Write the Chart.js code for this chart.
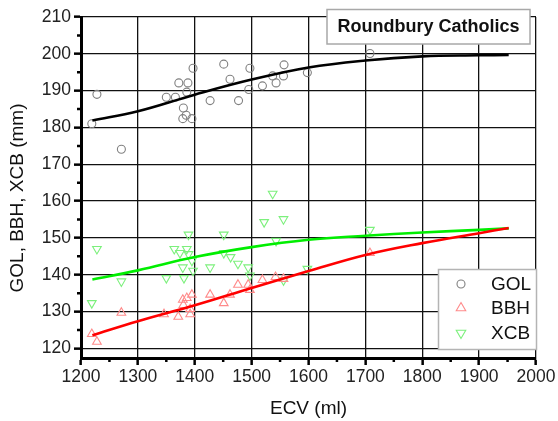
<!DOCTYPE html>
<html>
<head>
<meta charset="utf-8">
<script src="https://cdn.jsdelivr.net/npm/chart.js@4.4.1/dist/chart.umd.min.js"></script>
<style>
  html, body { margin: 0; padding: 0; background: #fff; }
  #chart { display: block; }
</style>
</head>
<body>
<canvas id="chart" width="558" height="421"></canvas>
<script>
/*******************************************************************************
 * DATA
 */

// glabella-opisthocranion length vs endocranial volume
const golEcv = [1219, 1228, 1271, 1350, 1366, 1372, 1388, 1397, 1386, 1380, 1385, 1379, 1395,
                1427, 1451, 1462, 1477, 1497, 1495, 1519, 1537, 1543, 1556, 1557, 1598, 1708];
const golVal = [181.0, 189.0, 174.1, 188.2, 188.2, 192.1, 192.1, 196.1, 189.6, 185.3, 183.3, 182.4, 182.4,
                187.3, 197.2, 193.1, 187.3, 196.1, 190.3, 191.3, 194.0, 192.1, 194.0, 197.0, 194.9, 200.1];

// basion-bregma height
const bbhEcv = [1219, 1228, 1271, 1346, 1371, 1380, 1379, 1386, 1395, 1392, 1392,
                1427, 1451, 1462, 1476, 1494, 1497, 1519, 1542, 1556, 1708];
const bbhVal = [123.9, 121.8, 129.7, 129.3, 128.6, 131.8, 133.2, 133.7, 134.6, 130.7, 129.3,
                134.6, 132.3, 134.6, 137.3, 137.3, 135.9, 138.6, 139.4, 138.9, 145.9];

// maximum cranial breadth
const xcbEcv = [1219, 1228, 1271, 1350, 1364, 1374, 1386, 1389, 1389, 1395, 1379, 1381, 1397,
                1427, 1451, 1451, 1463, 1476, 1494, 1497, 1522, 1537, 1543, 1556, 1556, 1598, 1708];
const xcbVal = [132.3, 147.0, 138.2, 139.1, 147.0, 145.9, 147.0, 150.9, 145.6, 143.8, 142.0, 139.1, 141.1,
                142.0, 150.9, 145.9, 144.8, 143.0, 142.0, 139.8, 154.3, 162.0, 149.2, 155.1, 138.5, 141.6, 152.2];

// fitted curves
const fitEcv = [1220, 1300, 1400, 1500, 1600, 1700, 1800, 1900, 1952];
const golFit = [181.9, 184.4, 188.9, 193.0, 196.3, 198.2, 199.3, 199.6, 199.7];
const bbhFit = [123.6, 127.4, 131.7, 136.4, 141.0, 145.4, 148.6, 151.3, 152.7];
const xcbFit = [138.7, 141.2, 144.8, 147.5, 149.5, 150.6, 151.5, 152.2, 152.6];

const xTicks = [1200, 1300, 1400, 1500, 1600, 1700, 1800, 1900, 2000];
const yTicks = [120, 130, 140, 150, 160, 170, 180, 190, 200, 210];

const seriesNames = ['GOL', 'BBH', 'XCB'];

/*******************************************************************************
 * STYLE
 */

const FONT = "'Liberation Sans', Arial, sans-serif";
const GOL_MARK = '#808080';
const BBH_MARK = '#ff8a8a';
const XCB_MARK = '#7cf07c';

const pairs = (xs, ys) => xs.map((x, i) => ({ x, y: ys[i] }));

const fitOpts = (color) => ({
  type: 'line',
  showLine: true,
  borderColor: color,
  borderWidth: 2.6,
  pointRadius: 0,
  fill: false,
  tension: 0.4,
});

const markOpts = (color, style, radius, rotation) => ({
  showLine: false,
  pointStyle: style,
  pointRadius: radius,
  pointHoverRadius: radius,
  pointRotation: rotation,
  pointBorderColor: color,
  pointBackgroundColor: 'rgba(255,255,255,0)',
  pointBorderWidth: 1.1,
  borderColor: color,
});

const legendMarks = [
  { color: GOL_MARK, style: 'circle', radius: 4, rotation: 0 },
  { color: BBH_MARK, style: 'triangle', radius: 5.5, rotation: 0 },
  { color: XCB_MARK, style: 'triangle', radius: 5.5, rotation: 180 },
];

/*******************************************************************************
 * PLUGINS
 */

// minor ticks halfway between the labelled ones
const minorTicks = {
  id: 'minorTicks',
  afterDraw(chart) {
    const { ctx, chartArea, scales } = chart;
    ctx.save();
    ctx.strokeStyle = '#000';
    ctx.lineWidth = 2.5;
    ctx.beginPath();
    for (let i = 0; i < xTicks.length - 1; i++) {
      const px = scales.x.getPixelForValue((xTicks[i] + xTicks[i + 1]) / 2);
      ctx.moveTo(px, chartArea.bottom);
      ctx.lineTo(px, chartArea.bottom + 4);
    }
    for (let i = 0; i < yTicks.length - 1; i++) {
      const py = scales.y.getPixelForValue((yTicks[i] + yTicks[i + 1]) / 2);
      ctx.moveTo(chartArea.left, py);
      ctx.lineTo(chartArea.left - 4, py);
    }
    ctx.stroke();
    ctx.restore();
  }
};

// axis titles, title box and legend box
const decorations = {
  id: 'decorations',
  afterDraw(chart) {
    const { ctx, chartArea } = chart;
    ctx.save();

    // axis titles
    ctx.fillStyle = '#111';
    ctx.font = `19px ${FONT}`;
    ctx.textAlign = 'center';
    ctx.textBaseline = 'middle';
    ctx.fillText('ECV (ml)', (chartArea.left + chartArea.right) / 2, 409);
    ctx.save();
    ctx.translate(18, 198);
    ctx.rotate(-Math.PI / 2);
    ctx.fillText('GOL, BBH, XCB (mm)', 0, 0);
    ctx.restore();

    // title box
    ctx.fillStyle = '#fff';
    ctx.strokeStyle = '#a8a8a8';
    ctx.lineWidth = 1.5;
    ctx.fillRect(327, 9.5, 203, 34.5);
    ctx.strokeRect(327, 9.5, 203, 34.5);
    ctx.fillStyle = '#111';
    ctx.font = `bold 18px ${FONT}`;
    ctx.fillText('Roundbury Catholics', 428.5, 27);

    // legend box
    ctx.fillStyle = '#fff';
    ctx.strokeStyle = '#b4b4b4';
    ctx.fillRect(438.5, 269.5, 98, 80);
    ctx.strokeRect(438.5, 269.5, 98, 80);

    const rows = [284, 308, 333];
    ctx.textAlign = 'left';
    ctx.font = `19px ${FONT}`;
    legendMarks.forEach((m, i) => {
      ctx.strokeStyle = m.color;
      ctx.fillStyle = 'rgba(255,255,255,0)';
      ctx.lineWidth = 1.1;
      Chart.helpers.drawPoint(ctx, {
        pointStyle: m.style, radius: m.radius, rotation: m.rotation, borderWidth: 1.1
      }, 461, rows[i]);
      ctx.fillStyle = '#111';
      ctx.fillText(seriesNames[i], 491, rows[i] + 1);
    });

    ctx.restore();
  }
};

/*******************************************************************************
 * CHART
 */

const tickFont = { family: FONT, size: 17.5 };

new Chart(document.getElementById('chart'), {
  type: 'scatter',
  data: {
    datasets: [
      { label: 'GOL fit', data: pairs(fitEcv, golFit), ...fitOpts('#000000') },
      { label: 'BBH fit', data: pairs(fitEcv, bbhFit), ...fitOpts('#ff0000') },
      { label: 'XCB fit', data: pairs(fitEcv, xcbFit), ...fitOpts('#00ee00') },
      { label: 'GOL', data: pairs(golEcv, golVal), ...markOpts(GOL_MARK, 'circle', 4, 0) },
      { label: 'BBH', data: pairs(bbhEcv, bbhVal), ...markOpts(BBH_MARK, 'triangle', 5, 0) },
      { label: 'XCB', data: pairs(xcbEcv, xcbVal), ...markOpts(XCB_MARK, 'triangle', 5, 180) },
    ],
  },
  options: {
    responsive: false,
    animation: false,
    events: [],
    layout: {
      padding: { top: 17, right: 22, left: 0, bottom: 0 },
    },
    plugins: {
      legend: { display: false },
      tooltip: { enabled: false },
    },
    scales: {
      x: {
        type: 'linear',
        min: 1200,
        max: 2000,
        afterFit: (scale) => { scale.height = 63; },
        afterBuildTicks: (scale) => { scale.ticks = xTicks.map(v => ({ value: v })); },
        border: { color: '#000', width: 3 },
        grid: {
          color: '#111',
          lineWidth: 1.3,
          drawTicks: true,
          tickLength: 7,
          tickColor: '#000',
          tickWidth: 2.5,
        },
        ticks: {
          font: tickFont,
          color: '#222',
          padding: 2,
          maxRotation: 0,
          callback: (v) => String(v),
        },
      },
      y: {
        type: 'linear',
        min: 117.4,
        max: 210,
        afterFit: (scale) => { scale.width = 81; },
        afterBuildTicks: (scale) => { scale.ticks = yTicks.map(v => ({ value: v })); },
        border: { color: '#000', width: 3 },
        grid: {
          color: '#111',
          lineWidth: 1.3,
          drawTicks: true,
          tickLength: 7,
          tickColor: '#000',
          tickWidth: 2.5,
        },
        ticks: {
          font: tickFont,
          color: '#222',
          padding: 3,
          callback: (v) => String(v),
        },
      },
    },
  },
  plugins: [minorTicks, decorations],
});
</script>
</body>
</html>
